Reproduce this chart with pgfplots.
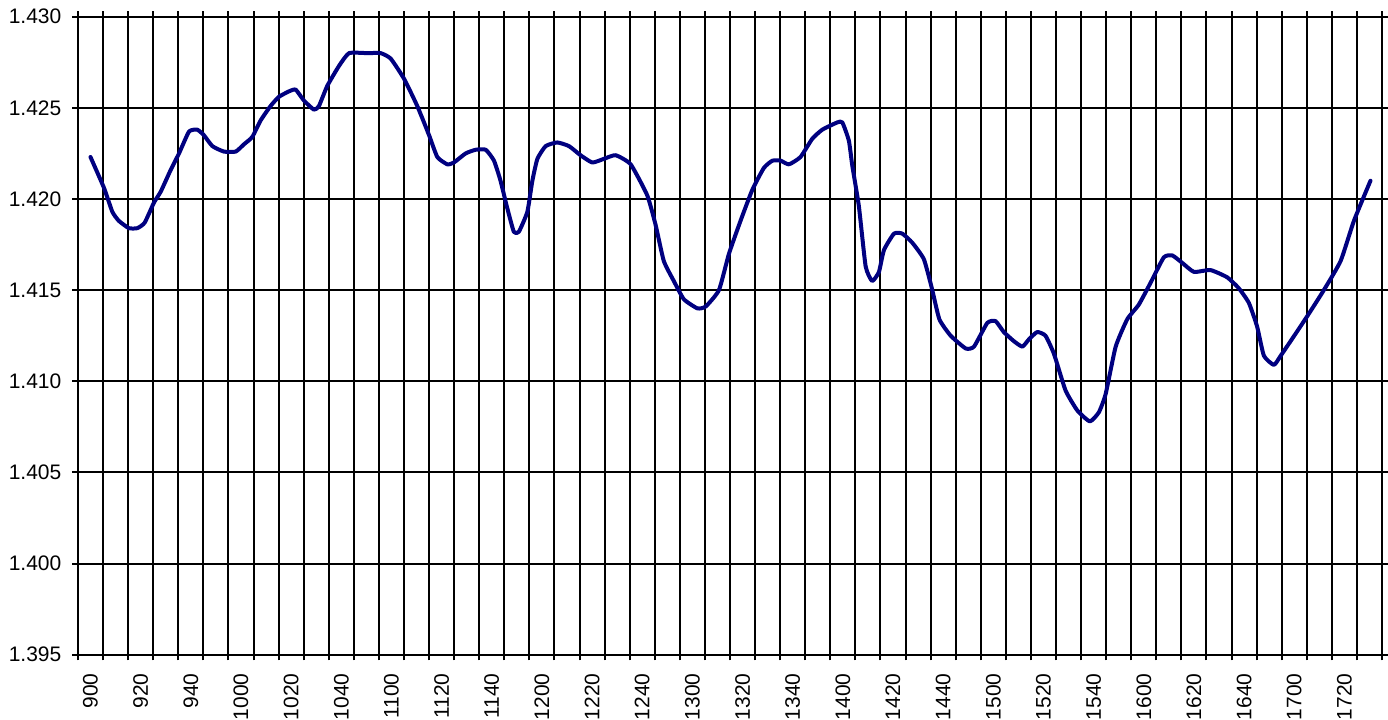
\documentclass[border=0pt]{standalone}
\usepackage{pgfplots}
\pgfplotsset{compat=1.18}
\usepackage{fontspec}
\setmainfont{Liberation Sans}
\definecolor{navyline}{RGB}{0,0,128}
\begin{document}
\begin{tikzpicture}
\begin{axis}[
  name=ax,
  at={(0,0)}, anchor=south west,
  scale only axis,
  width=652.3pt, height=319.15pt,
  xmin=-0.5, xmax=51.5,
  ymin=1.395, ymax=1.430,
  ytick={1.395,1.400,1.405,1.410,1.415,1.420,1.425,1.430},
  ymajorgrids,
  xtick={0,2,...,50},
  xticklabels={900,920,940,1000,1020,1040,1100,1120,1140,1200,1220,1240,1300,1320,1340,1400,1420,1440,1500,1520,1540,1600,1620,1640,1700,1720},
  minor xtick={-0.5,0.5,...,51.5},
  xminorgrids,
  major x tick style={draw=none},
  tick align=outside,
  major tick length=2.8pt,
  minor tick length=2.8pt,
  tick style={black, line width=1pt},
  grid style={black, line width=1pt},
  minor grid style={black, line width=1pt},
  axis line style={black, line width=1pt},
  x tick label style={rotate=90, anchor=east, font=\fontsize{10.5}{12}\selectfont, yshift=0pt, xshift=-3pt},
  y tick label style={font=\fontsize{10.5}{12}\selectfont, xshift=-2pt},
  /pgf/number format/assume math mode=true,
  yticklabel style={/pgf/number format/.cd, fixed, fixed zerofill, precision=3},
  scaled y ticks=false,
  clip=false,
]
\addplot[navyline, line width=2pt, line join=round, line cap=round, smooth, tension=0.3] coordinates {
(0.00,1.4223) (0.54,1.4206) (0.87,1.4193) (1.13,1.4188) (1.53,1.4184) (1.87,1.4184)
(2.16,1.4187) (2.53,1.4198) (2.80,1.4204) (3.20,1.4216) (3.53,1.4225) (3.93,1.4237)
(4.26,1.4238) (4.52,1.4235) (4.86,1.4229) (5.32,1.4226) (5.79,1.4226) (6.12,1.4230)
(6.45,1.4234) (6.78,1.4243) (7.18,1.4251) (7.51,1.4256) (7.91,1.4259) (8.18,1.4260)
(8.51,1.4254) (8.91,1.4249) (9.11,1.4251) (9.44,1.4262) (9.91,1.4273) (10.31,1.4280)
(11.04,1.4280) (11.57,1.4280) (11.97,1.4277) (12.50,1.4266) (13.03,1.4251) (13.50,1.4235)
(13.83,1.4223) (14.23,1.4219) (14.49,1.4220) (14.96,1.4225) (15.36,1.4227) (15.76,1.4227)
(16.09,1.4221) (16.35,1.4210) (16.60,1.4196) (16.88,1.4182) (17.08,1.4182) (17.42,1.4193)
(17.62,1.4210) (17.82,1.4222) (18.15,1.4229) (18.61,1.4231) (19.08,1.4229) (19.54,1.4224)
(20.01,1.4220) (20.47,1.4222) (20.94,1.4224) (21.54,1.4219) (22.20,1.4202) (22.53,1.4186)
(22.86,1.4166) (23.26,1.4155) (23.66,1.4145) (24.20,1.4140) (24.53,1.4141) (25.06,1.4150)
(25.46,1.4170) (25.92,1.4188) (26.39,1.4205) (26.85,1.4217) (27.19,1.4221) (27.52,1.4221)
(27.85,1.4219) (28.31,1.4223) (28.78,1.4233) (29.18,1.4238) (29.78,1.4242) (29.98,1.4242)
(30.24,1.4232) (30.38,1.4218) (30.64,1.4196) (30.91,1.4163) (31.17,1.4155) (31.44,1.4160)
(31.64,1.4172) (32.04,1.4181) (32.37,1.4181) (32.77,1.4176) (33.23,1.4167) (33.55,1.4151)
(33.85,1.4134) (34.30,1.4125) (34.90,1.4118) (35.23,1.4119) (35.76,1.4132) (36.09,1.4133)
(36.42,1.4127) (36.82,1.4122) (37.16,1.4119) (37.42,1.4123) (37.75,1.4127) (38.08,1.4125)
(38.42,1.4115) (38.88,1.4095) (39.35,1.4084) (39.85,1.4078) (40.21,1.4083) (40.48,1.4093)
(40.88,1.4119) (41.34,1.4134) (41.80,1.4142) (42.27,1.4154) (42.80,1.4168) (43.14,1.4169)
(43.53,1.4165) (44.00,1.4160) (44.66,1.4161) (45.33,1.4157) (45.79,1.4151) (46.19,1.4143)
(46.52,1.4130) (46.79,1.4114) (47.19,1.4109) (47.46,1.4114) (48.05,1.4126) (48.58,1.4137)
(49.18,1.4150) (49.85,1.4166) (50.38,1.4188) (51.04,1.4210)
};
\end{axis}
\pgfresetboundingbox
\path ([shift={(-39pt,-32.5pt)}]ax.south west) rectangle ([shift={(3pt,8.35pt)}]ax.north east);
\end{tikzpicture}
\end{document}
